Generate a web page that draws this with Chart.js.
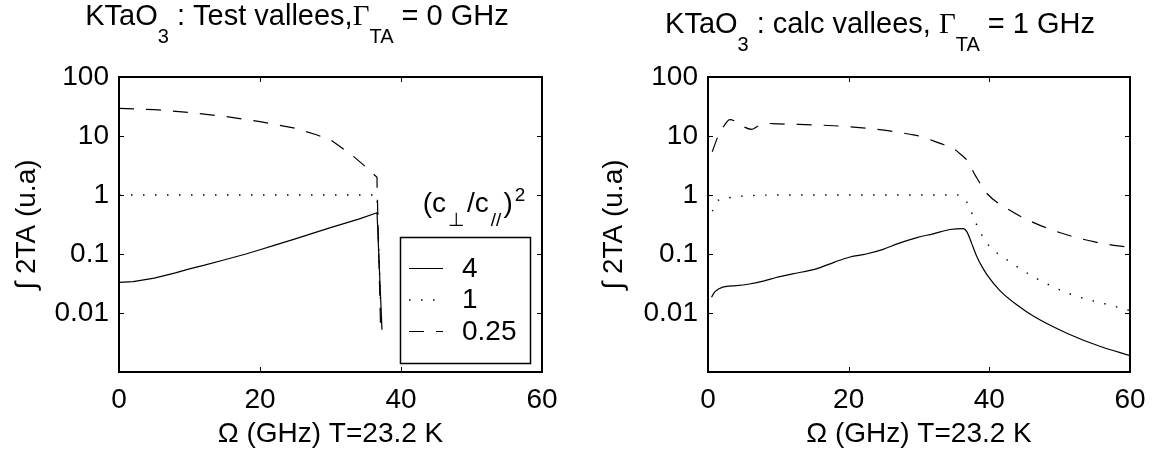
<!DOCTYPE html>
<html lang="en">
<head>
    <meta charset="UTF-8">
    <title>KTaO3 vallees</title>
    <style>
        body { margin: 0; padding: 0; background-color: #fff; }
        .wrap { position: relative; width: 1163px; height: 458px; }
        #leftChart { position: absolute; left: 0; top: 0; }
        #rightChart { position: absolute; left: 581px; top: 0; }
    </style>
    <script src="https://cdn.jsdelivr.net/npm/chart.js"></script>
</head>
<body>
    <div class="wrap">
        <canvas id="leftChart" width="581" height="458"></canvas>
        <canvas id="rightChart" width="582" height="458"></canvas>
    </div>
    <script>
        // axis ticks and legend
        const xTicks = [0, 20, 40, 60];
        const yTicks = [0.01, 0.1, 1, 10, 100];
        const yTickLabels = ['0.01', '0.1', '1', '10', '100'];
        const legendLabels = ['4', '1', '0.25'];

        // left panel: Gamma_TA = 0 GHz
        const leftOmegaSolid = [0, 2, 5, 8, 10, 12, 15, 18, 20, 22, 25, 28, 30, 32, 34, 36.6, 37.3];
        const leftSolid = [0.033, 0.034, 0.039, 0.048, 0.056, 0.064, 0.08, 0.1, 0.118, 0.14, 0.18, 0.235, 0.28, 0.33, 0.39, 0.5, 0.0052];
        const leftOmegaDotted = [0, 10, 20, 30, 36.6, 37.2];
        const leftDotted = [1, 1, 1, 1, 1, 0.006];
        const leftOmegaDashed = [0, 5, 10, 15, 20, 25, 28, 30, 33, 35, 36.6, 36.6, 37.1];
        const leftDashed = [29.5, 28, 25, 21.5, 17.5, 13.5, 10.5, 8.6, 4.8, 3.0, 2.0, 1.6, 0.006];

        // right panel: Gamma_TA = 1 GHz
        const rightOmegaSolid = [0.5, 1, 2.1, 4, 5.9, 8, 9.7, 12, 15.4, 18, 20.2, 22.5, 24.9, 27, 29.7, 32, 34.4, 36.3, 36.8, 37.5, 38.2, 39.1, 39.7, 41.5, 44, 46.3, 51.1, 55.8, 60];
        const rightSolid = [0.0186, 0.023, 0.0275, 0.029, 0.031, 0.035, 0.040, 0.046, 0.056, 0.073, 0.089, 0.10, 0.12, 0.15, 0.19, 0.22, 0.26, 0.27, 0.24, 0.15, 0.092, 0.057, 0.044, 0.024, 0.0135, 0.0088, 0.0045, 0.0027, 0.0019];
        const rightOmegaDotted = [0.6, 1.5, 3, 5, 10, 20, 30, 35.4, 36.8, 38.1, 39.7, 42.5, 46.8, 51.5, 58.2, 60];
        const rightDotted = [0.53, 0.82, 0.9, 0.96, 1.0, 1.0, 1.0, 1.0, 0.76, 0.33, 0.15, 0.08, 0.038, 0.021, 0.0126, 0.011];
        const rightOmegaDashed = [0.6, 1.4, 2.3, 3.1, 4, 5, 6.2, 7, 8, 10, 12, 16, 20, 25, 28.7, 30, 33, 34.9, 36, 36.8, 38, 39.7, 42.5, 46.3, 51.1, 55, 57.7, 60];
        const rightDashed = [5.4, 9.7, 15, 19, 17.5, 14.5, 13, 14.5, 16.4, 16, 15.8, 15.3, 14.4, 12.6, 10.7, 10, 7.5, 6.1, 4.8, 3.9, 2.15, 1.05, 0.59, 0.34, 0.21, 0.16, 0.14, 0.13];

        const FONT = "'Liberation Sans', Arial, sans-serif";
        const SERIF = "'Liberation Serif', 'Times New Roman', serif";
        const DOT = [1.5, 10.5];
        const DASH = [15, 12];

        const pts = (xs, ys) => xs.map((x, i) => ({ x: x, y: ys[i] }));

        function makeDatasets(os, s, od, d, oh, h, mode) {
            return [
                { label: legendLabels[0], data: pts(os, s), borderDash: [], cubicInterpolationMode: mode },
                { label: legendLabels[1], data: pts(od, d), borderDash: DOT, borderWidth: 1.4, cubicInterpolationMode: mode },
                { label: legendLabels[2], data: pts(oh, h), borderDash: DASH, cubicInterpolationMode: mode }
            ];
        }

        // draw text made of pieces: 0 = normal, 1 = subscript, 2 = serif, 3 = superscript
        function drawRich(ctx, parts, cx, baseline, size, subSize, subDrop, supRise) {
            const fontOf = k => (k === 1 || k === 3) ? subSize + 'px ' + FONT : (k === 2 ? size + 'px ' + SERIF : size + 'px ' + FONT);
            let total = 0;
            parts.forEach(p => { ctx.font = fontOf(p[1]); total += ctx.measureText(p[0]).width + (p[2] || 0); });
            let x = cx - total / 2;
            ctx.fillStyle = '#000';
            ctx.textAlign = 'left';
            ctx.textBaseline = 'alphabetic';
            parts.forEach(p => {
                ctx.font = fontOf(p[1]);
                const y = p[1] === 1 ? baseline + subDrop : (p[1] === 3 ? baseline - supRise : baseline);
                ctx.fillText(p[0], x, y);
                x += ctx.measureText(p[0]).width + (p[2] || 0);
            });
        }

        // box around the axes with inward ticks, as matlab does
        const framePlugin = {
            id: 'frame',
            afterDraw(chart) {
                const { ctx, chartArea: a, scales: { x, y } } = chart;
                ctx.save();
                ctx.strokeStyle = '#000';
                ctx.lineWidth = 1;
                ctx.beginPath();
                xTicks.slice(1, -1).forEach(v => {
                    const px = Math.round(x.getPixelForValue(v)) + 0.5;
                    ctx.moveTo(px, a.bottom); ctx.lineTo(px, a.bottom - 5);
                    ctx.moveTo(px, a.top); ctx.lineTo(px, a.top + 5);
                });
                yTicks.slice(0, -1).forEach(v => {
                    const py = Math.round(y.getPixelForValue(v)) + 0.5;
                    ctx.moveTo(a.left, py); ctx.lineTo(a.left + 5, py);
                    ctx.moveTo(a.right, py); ctx.lineTo(a.right - 5, py);
                });
                ctx.stroke();
                ctx.lineWidth = 2;
                ctx.strokeRect(a.left, a.top, a.right - a.left, a.bottom - a.top);
                ctx.restore();
            }
        };

        function titlePlugin(parts, cx, baseline) {
            return {
                id: 'richTitle',
                afterDraw(chart) {
                    const ctx = chart.ctx;
                    ctx.save();
                    drawRich(ctx, parts, cx, baseline, 29, 20, 18, 0);
                    ctx.restore();
                }
            };
        }

        // legend box inside the left axes
        const legendPlugin = {
            id: 'boxLegend',
            afterDraw(chart) {
                const ctx = chart.ctx;
                ctx.save();
                drawRich(ctx, [['(c', 0, 2], ['\u22A5', 1, 2], ['/c', 0, 2], ['//', 1, 2], [')', 0, 2], ['2', 3]], 474, 212, 28, 19, 14, 11);
                ctx.strokeStyle = '#000';
                ctx.lineWidth = 1.5;
                ctx.strokeRect(400.5, 237.5, 130, 126);
                const rows = [268, 299.5, 331];
                chart.data.datasets.forEach((ds, i) => {
                    ctx.lineWidth = ds.borderWidth || 1.2;
                    ctx.setLineDash(ds.borderDash || []);
                    ctx.beginPath();
                    ctx.moveTo(409, rows[i] + 0.5);
                    ctx.lineTo(443, rows[i] + 0.5);
                    ctx.stroke();
                    ctx.setLineDash([]);
                    ctx.fillStyle = '#000';
                    ctx.font = '28px ' + FONT;
                    ctx.textAlign = 'left';
                    ctx.textBaseline = 'middle';
                    ctx.fillText(ds.label, 462, rows[i] + 1);
                });
                ctx.restore();
            }
        };

        function makeOptions(cfg) {
            return {
                responsive: false,
                animation: false,
                layout: { padding: { left: 0, top: cfg.top, right: cfg.right, bottom: 0 } },
                plugins: { legend: { display: false }, tooltip: { enabled: false }, title: { display: false } },
                elements: {
                    point: { radius: 0 },
                    line: { borderColor: '#000', borderWidth: 1.2, tension: 0, fill: false }
                },
                scales: {
                    x: {
                        type: 'linear', min: 0, max: 60,
                        afterBuildTicks: s => { s.ticks = xTicks.map(v => ({ value: v })); },
                        grid: { display: false, drawTicks: false },
                        border: { display: false },
                        ticks: { color: '#000', font: { family: FONT, size: 28 }, padding: 11, maxRotation: 0, autoSkip: false },
                        title: { display: true, text: '\u03A9 (GHz) T=23.2 K', color: '#000', font: { family: FONT, size: 28 }, padding: { top: 0, bottom: 7 } },
                        afterFit: s => { s.height = 86; }
                    },
                    y: {
                        type: 'logarithmic', min: 0.001, max: 100,
                        afterBuildTicks: s => { s.ticks = yTicks.map(v => ({ value: v })); },
                        grid: { display: false, drawTicks: false },
                        border: { display: false },
                        ticks: { color: '#000', font: { family: FONT, size: 28 }, padding: 10, callback: (v, i) => yTickLabels[i] },
                        title: { display: true, text: '\u222B 2TA (u.a)', color: '#000', font: { family: FONT, size: 28 }, padding: { top: cfg.yTitlePad, bottom: 0 } },
                        afterFit: s => { s.width = cfg.yWidth; }
                    }
                }
            };
        }

        new Chart(document.getElementById('leftChart'), {
            type: 'line',
            data: { datasets: makeDatasets(leftOmegaSolid, leftSolid, leftOmegaDotted, leftDotted, leftOmegaDashed, leftDashed, 'default') },
            options: makeOptions({ top: 77, right: 39, yWidth: 119, yTitlePad: 10 }),
            plugins: [framePlugin, legendPlugin,
                titlePlugin([['KTaO', 0], ['3', 1], [' : Test vallees,', 0], ['\u0393', 2], ['TA', 1], [' = 0 GHz', 0]], 297, 25)]
        });

        new Chart(document.getElementById('rightChart'), {
            type: 'line',
            data: { datasets: makeDatasets(rightOmegaSolid, rightSolid, rightOmegaDotted, rightDotted, rightOmegaDashed, rightDashed, 'monotone') },
            options: makeOptions({ top: 77, right: 33, yWidth: 127, yTitlePad: 16 }),
            plugins: [framePlugin,
                titlePlugin([['KTaO', 0], ['3', 1], [' : calc vallees, ', 0], ['\u0393', 2], ['TA', 1], [' = 1 GHz', 0]], 299, 33)]
        });
    </script>
</body>
</html>
